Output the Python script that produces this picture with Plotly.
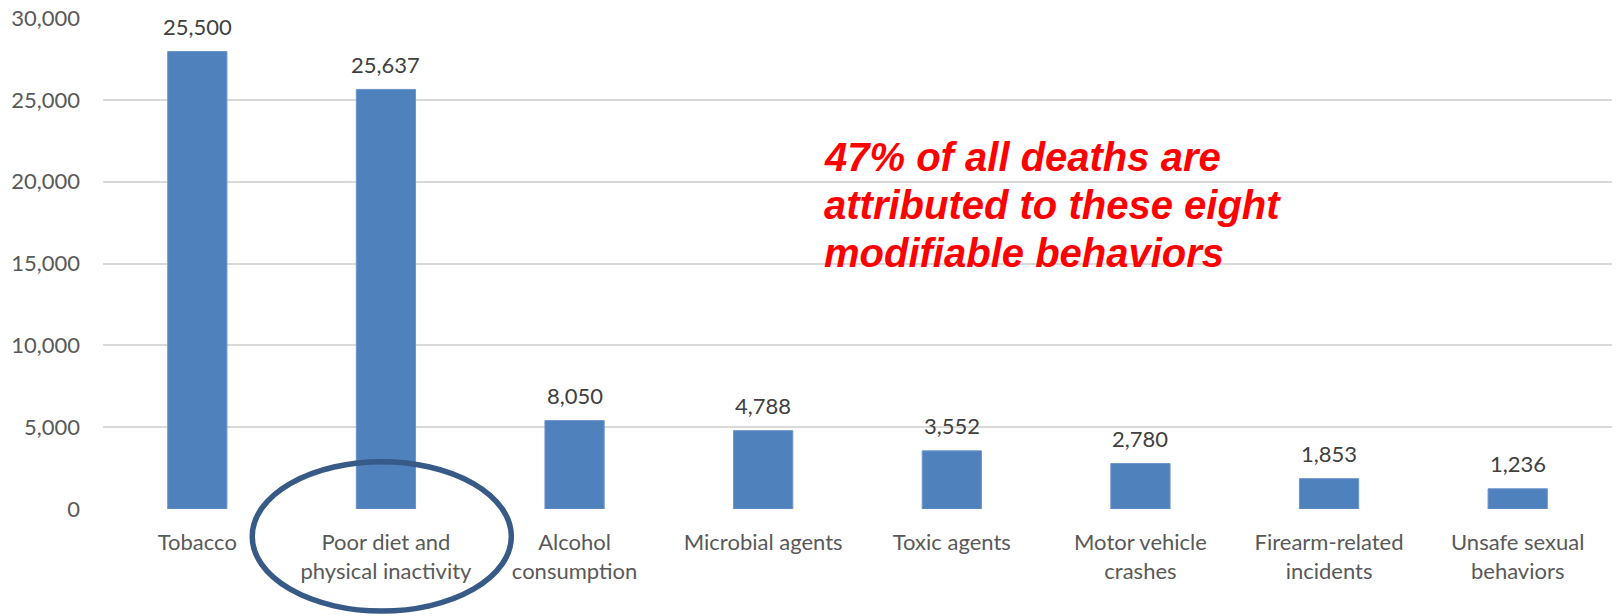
import plotly.graph_objects as go

categories = [
    "Tobacco",
    "Poor diet and<br>physical inactivity",
    "Alcohol<br>consumption",
    "Microbial agents",
    "Toxic agents",
    "Motor vehicle<br>crashes",
    "Firearm-related<br>incidents",
    "Unsafe sexual<br>behaviors",
]
bar_heights = [27950, 25637, 5400, 4788, 3552, 2780, 1853, 1236]
value_labels = ["25,500", "25,637", "8,050", "4,788", "3,552", "2,780", "1,853", "1,236"]
note_lines = [
    "47% of all deaths are",
    "attributed to these eight",
    "modifiable behaviors",
]
y_ticks = [0, 5000, 10000, 15000, 20000, 25000, 30000]

BASE_FONT = "Lato, 'Open Sans', sans-serif"

fig = go.Figure()
fig.add_trace(go.Bar(
    x=categories,
    y=bar_heights,
    marker=dict(color="#4F81BD", line=dict(color="#6B95CB", width=1)),
    hoverinfo="skip",
))

annotations = []
for cat, h, lab in zip(categories, bar_heights, value_labels):
    annotations.append(dict(
        x=cat, y=h, xref="x", yref="y", text=lab, showarrow=False,
        yanchor="middle", xanchor="center", yshift=25,
        font=dict(family=BASE_FONT, size=22, color="#404040"),
    ))

note_y = [0.716, 0.619, 0.521]
for line, yy in zip(note_lines, note_y):
    annotations.append(dict(
        x=0.4762, y=yy, xref="paper", yref="paper", text="<b><i>" + line + "</i></b>",
        showarrow=False, xanchor="left", yanchor="middle",
        font=dict(family="'Liberation Sans', Arial, sans-serif", size=40, color="#FF0000"),
    ))

fig.update_layout(
    width=1616, height=616,
    margin=dict(l=103, r=4, t=16, b=107),
    paper_bgcolor="white", plot_bgcolor="white",
    showlegend=False,
    bargap=0.686,
    annotations=annotations,
    shapes=[dict(
        type="circle", xref="paper", yref="paper",
        x0=0.0989, x1=0.2706, y0=-0.2079, y1=0.0963,
        line=dict(color="#375A87", width=5.5),
        fillcolor="rgba(0,0,0,0)",
        layer="above",
    )],
    font=dict(family=BASE_FONT, size=22, color="#595959"),
)
fig.update_xaxes(
    showgrid=False, showline=False, zeroline=False, ticks="",
    ticklabelstandoff=18,
    tickfont=dict(family=BASE_FONT, size=22, color="#595959"),
)
fig.update_yaxes(
    range=[0, 30000], tickvals=y_ticks, tickformat=",",
    showgrid=True, gridcolor="#D9D9D9", gridwidth=1.5,
    zeroline=False, showline=False, ticks="",
    ticklabelstandoff=22,
    tickfont=dict(family=BASE_FONT, size=22, color="#595959"),
)

fig.write_html("out.html")
